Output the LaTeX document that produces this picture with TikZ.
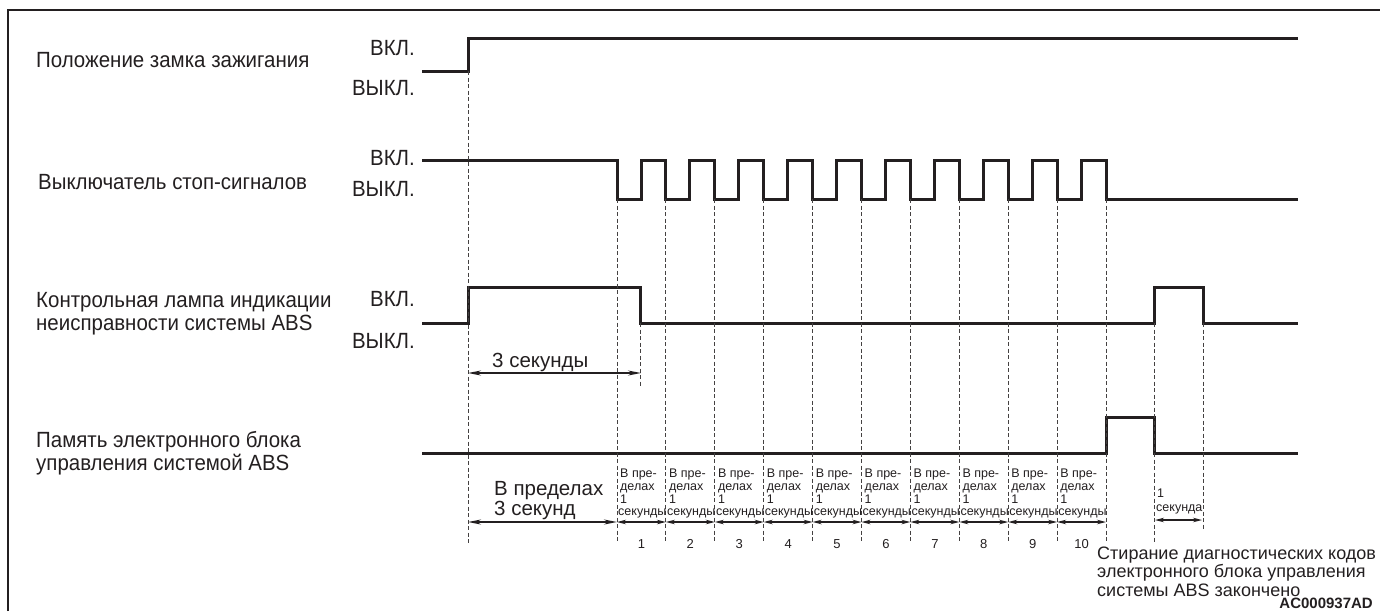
\documentclass[tikz,border=0pt]{standalone}
\usepackage{fontspec}
\setmainfont{Liberation Sans}
\newfontfamily\cond[FakeStretch=0.93]{Liberation Sans}
\usetikzlibrary{arrows.meta}
\definecolor{ink}{HTML}{231F20}
\begin{document}
\begin{tikzpicture}[x=1pt,y=-1pt,
  sig/.style={line width=3pt, draw=ink, line join=miter},
  dsh/.style={line width=0.9pt, draw=ink!85, dash pattern=on 4pt off 2.5pt},
  lbl/.style={font=\cond\fontsize{22}{24}\selectfont, inner sep=0pt, text=ink},
  midtxt/.style={font=\fontsize{20.5}{22}\selectfont, inner sep=0pt, text=ink},
  bigtxt/.style={font=\fontsize{20.5}{23}\selectfont, inner sep=0pt, text=ink},
  endtxt/.style={font=\fontsize{18}{20}\selectfont, inner sep=0pt, text=ink},
  tinytxt/.style={font=\fontsize{12.5}{13}\selectfont, inner sep=0pt, text=ink},
  numtxt/.style={font=\fontsize{13}{14}\selectfont, inner sep=0pt, text=ink},
  dimarr/.style={line width=1.7pt, draw=ink, {Stealth[length=13pt,width=5pt]}-{Stealth[length=13pt,width=5pt]}},
  smarr/.style={line width=1.3pt, draw=ink, {Stealth[length=9pt,width=4.5pt]}-{Stealth[length=9pt,width=4.5pt]}},
]
\useasboundingbox (0,0) rectangle (1380,611);
% frame
\draw[line width=2pt, ink] (8,611) -- (8,10) -- (1380,10);

% labels
\node[lbl, anchor=base west] (l1) at (36,67) {Положение замка зажигания};
\node[lbl, anchor=base west] (l2) at (38,189.5) {Выключатель стоп-сигналов};
\node[lbl, anchor=base west] (l3a) at (36,307.5) {Контрольная лампа индикации};
\node[lbl, anchor=base west] (l3b) at (36,330.5) {неисправности системы ABS};
\node[lbl, anchor=base west] (l4a) at (36,447.5) {Память электронного блока};
\node[lbl, anchor=base west] (l4b) at (36,470.5) {управления системой ABS};

\node[lbl, anchor=base east] (on1) at (415,55) {ВКЛ.};
\node[lbl, anchor=base east] (off1) at (415,95) {ВЫКЛ.};
\node[lbl, anchor=base east] (on2) at (415,165) {ВКЛ.};
\node[lbl, anchor=base east] (off2) at (415,196) {ВЫКЛ.};
\node[lbl, anchor=base east] (on3) at (415,306) {ВКЛ.};
\node[lbl, anchor=base east] (off3) at (415,348) {ВЫКЛ.};

% ignition
\draw[sig] (422,71) -- (468,71) -- (468,38) -- (1298,38);
% stop signal
\draw[sig] (422,160) -- (617,160) -- (617,199)
  \foreach \k in {0,...,9} { -- ({617+48.9*\k+24},199) -- ({617+48.9*\k+24},160) -- ({617+48.9*(\k+1)},160) -- ({617+48.9*(\k+1)},199) }
  -- (1298,199);
% lamp
\draw[sig] (422,323) -- (468,323) -- (468,287) -- (640,287) -- (640,323) -- (1154,323) -- (1154,287) -- (1203,287) -- (1203,323) -- (1298,323);
% memory
\draw[sig] (422,453) -- (1106,453) -- (1106,417) -- (1154,417) -- (1154,453) -- (1298,453);

% dashed guides
\draw[dsh] (468,71) -- (468,543);
\foreach \k in {0,...,10} { \draw[dsh] ({617+48.9*\k},199) -- ({617+48.9*\k},543); }
\draw[dsh] (640,323) -- (640,387);
\draw[dsh] (1154,323) -- (1154,543);
\draw[dsh] (1203,323) -- (1203,530);

% 3 seconds
\node[midtxt, anchor=base west] (t3) at (492,367) {3 секунды};
\coordinate (a3l) at (468,373); \coordinate (a3r) at (641,373);
\draw[dimarr] (a3l) -- (a3r);

% within 3 seconds
\node[bigtxt, anchor=base west] (w3a) at (494,495) {В пределах};
\node[bigtxt, anchor=base west] (w3b) at (494,515) {3 секунд};
\coordinate (b3l) at (468,522); \coordinate (b3r) at (617,522);
\draw[dimarr] (b3l) -- (b3r);

% 1-second intervals
\foreach \k [evaluate=\k as \xl using {617+48.9*(\k-1)}, evaluate=\k as \xr using {617+48.9*\k}] in {1,...,10} {
  \node[tinytxt, anchor=base west] (s\k a) at (\xl+3,477.5) {В пре-};
  \node[tinytxt, anchor=base west] (s\k b) at (\xl+3,490.5) {делах};
  \node[tinytxt, anchor=base west] (s\k c) at (\xl+3,503) {1};
  \node[tinytxt, anchor=base west] (s\k d) at (\xl+1,515.5) {секунды};
  \coordinate (c\k l) at (\xl,522); \coordinate (c\k r) at (\xr,522);
  \draw[smarr] (c\k l) -- (c\k r);
  \node[numtxt, anchor=base] (n\k) at ({(\xl+\xr)/2},548) {\k};
}

% 1 second
\node[tinytxt, anchor=base west] (o1) at (1157,497) {1};
\node[tinytxt, anchor=base west] (o2) at (1156,511) {секунда};
\coordinate (d1l) at (1155,520); \coordinate (d1r) at (1202,520);
\draw[smarr] (d1l) -- (d1r);

% final note
\node[endtxt, anchor=base west] (e1) at (1097,559) {Стирание диагностических кодов};
\node[endtxt, anchor=base west] (e2) at (1097,577.5) {электронного блока управления};
\node[endtxt, anchor=base west] (e3) at (1097,596) {системы ABS закончено};
\node[endtxt, anchor=base east, font=\bfseries\fontsize{15}{16}\selectfont] (code) at (1373,608.5) {AC000937AD};
\end{tikzpicture}
\end{document}
